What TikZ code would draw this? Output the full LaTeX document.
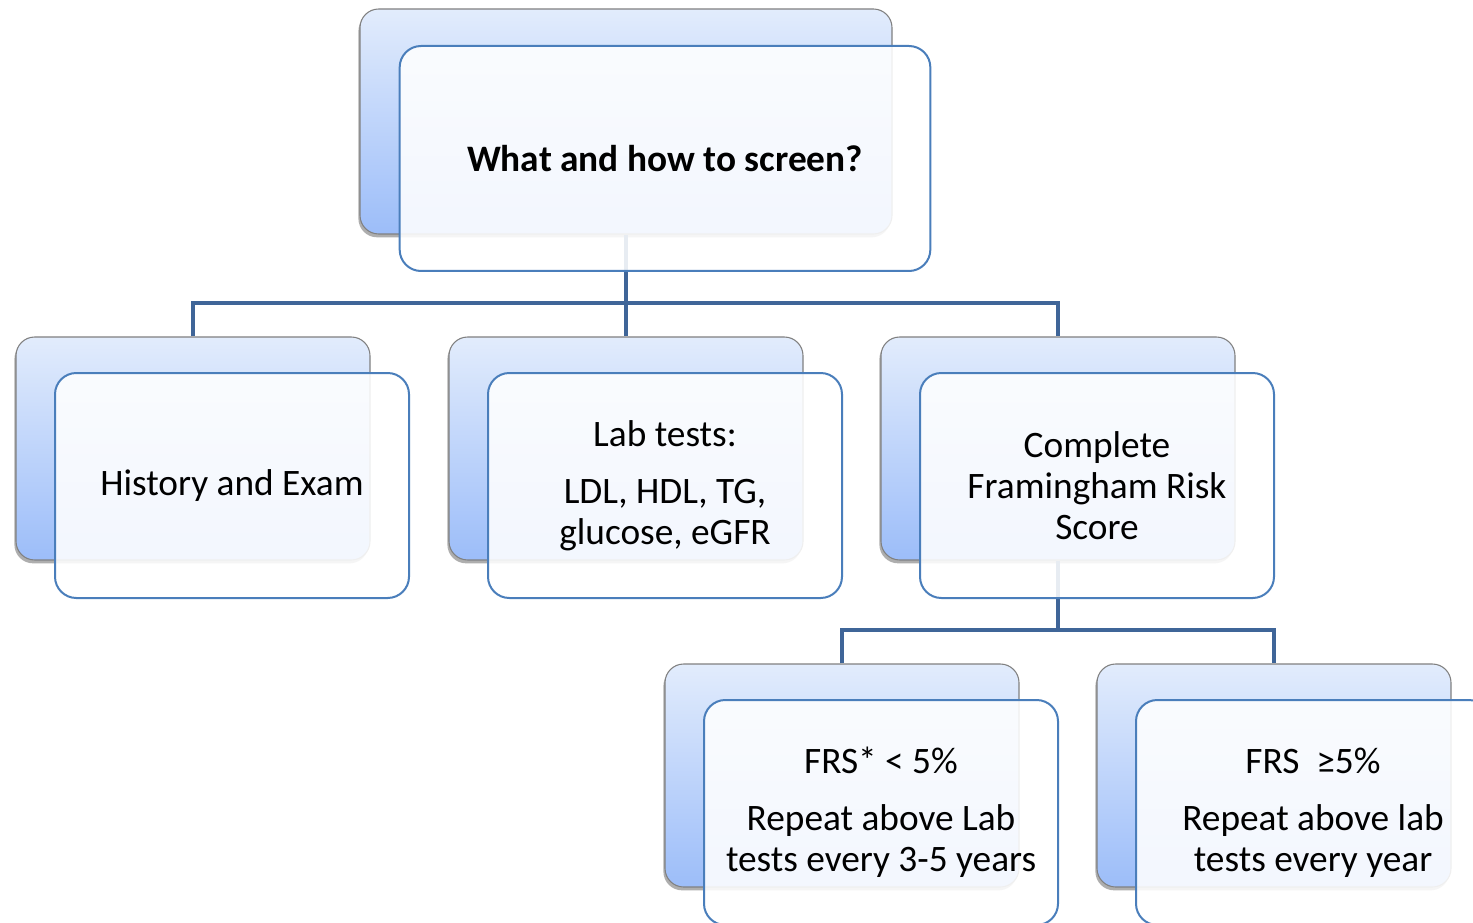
\documentclass[tikz,border=0pt]{standalone}
\usepackage{fontspec}
\setmainfont{Carlito}
\usetikzlibrary{shadows}

\definecolor{linkblue}{HTML}{3F6598}
\definecolor{frameblue}{HTML}{4A7EBB}
\definecolor{topblue}{HTML}{E2ECFC}
\definecolor{lowblue}{HTML}{9CBDF9}

\tikzset{
    backbox/.style = {draw=black!50, line width=0.8pt, rounded corners=14pt,
        top color=topblue, bottom color=lowblue,
        minimum width=265.5pt, minimum height=167.25pt,
        drop shadow={shadow xshift=-1.2pt, shadow yshift=-2.5pt, opacity=0.45, fill=black!70}},
    frontbox/.style = {draw=frameblue, line width=1.5pt, rounded corners=16pt,
        fill=white, fill opacity=0.88, text opacity=1, draw opacity=1,
        minimum width=265.5pt, minimum height=168.75pt, align=center,
        font=\fontsize{28}{30.75}\selectfont},
    link/.style = {draw=linkblue, line width=3pt}
}

\begin{document}
\begin{tikzpicture}[x=0.75pt, y=-0.75pt]
    \useasboundingbox (0,0) rectangle (1473,923);
    \clip (0,0) rectangle (1473,923);

    % back boxes
    \node[backbox, minimum width=399pt, minimum height=168.75pt] (topB) at (626,121.5) {};
    \node[backbox] (histB) at (193,448.5) {};
    \node[backbox] (labB) at (626,448.5) {};
    \node[backbox] (frsB) at (1058,448.5) {};
    \node[backbox] (lowB) at (842,775.5) {};
    \node[backbox] (highB) at (1274,775.5) {};

    % connectors
    \coordinate (hubA) at (626,303);
    \coordinate (hubB) at (1058,630);
    \draw[link] (topB.south) -- (hubA);
    \draw[link] (histB.north) |- (hubA) -| (frsB.north);
    \draw[link] (hubA) -- (labB.north);
    \draw[link] (frsB.south) -- (hubB);
    \draw[link] (lowB.north) |- (hubB) -| (highB.north);

    % front boxes
    \node[frontbox, minimum width=398pt, shift={(39,37)}] (topF) at (topB) {\textbf{What and how to screen?}};
    \node[frontbox, shift={(39,37)}] (histF) at (histB) {History and Exam};
    \node[frontbox, shift={(39,37)}] (labF) at (labB) {Lab tests:\\[12pt] LDL, HDL, TG,\\ glucose, eGFR};
    \node[frontbox, shift={(39,37)}] (frsF) at (frsB) {Complete\\ Framingham Risk\\ Score};
    \node[frontbox, shift={(39,37)}] (lowF) at (lowB) {FRS* < 5\%\\[12pt] Repeat above Lab\\ tests every 3-5 years};
    \node[frontbox, shift={(39,37)}] (highF) at (highB) {FRS~ ≥5\%\\[12pt] Repeat above lab\\ tests every year};
\end{tikzpicture}
\end{document}
